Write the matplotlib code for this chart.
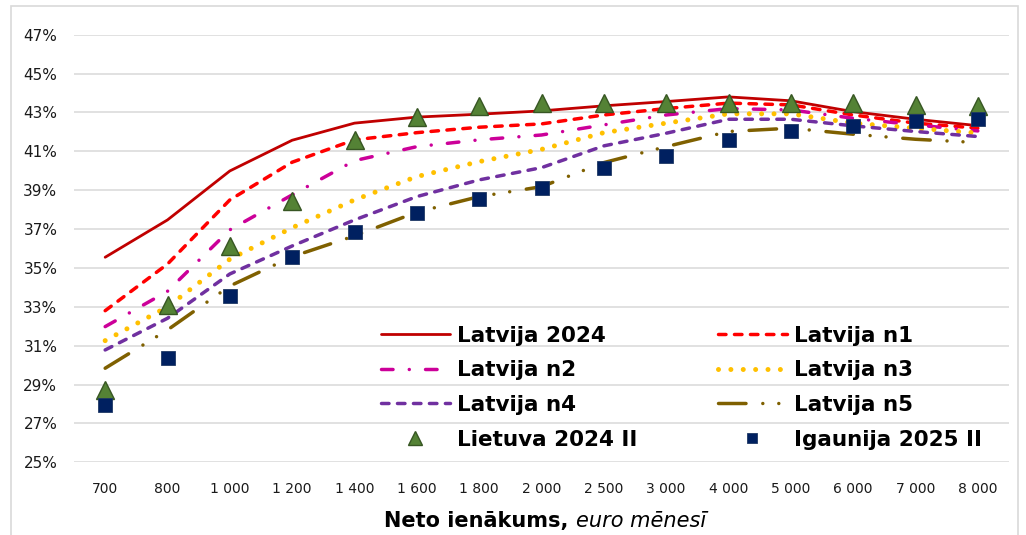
import matplotlib
matplotlib.use("Agg")
import matplotlib.pyplot as plt
from matplotlib.patches import Rectangle
import numpy as np

plt.rcParams['font.family'] = ['DejaVu Sans']
plt.rcParams['lines.scale_dashes'] = False

# data
income = ["700", "800", "1 000", "1 200", "1 400", "1 600", "1 800", "2 000",
          "2 500", "3 000", "4 000", "5 000", "6 000", "7 000", "8 000"]

lv_2024 = [35.55, 37.47, 39.99, 41.57, 42.45, 42.76, 42.91, 43.08,
           43.34, 43.56, 43.80, 43.60, 43.04, 42.65, 42.32]
lv_n1 = [32.80, 35.20, 38.50, 40.44, 41.59, 41.96, 42.24, 42.41,
         42.87, 43.20, 43.48, 43.39, 42.87, 42.45, 42.19]
lv_n2 = [31.98, 33.80, 36.96, 38.76, 40.52, 41.24, 41.59, 41.84,
         42.36, 42.87, 43.20, 43.13, 42.70, 42.36, 42.05]
lv_n3 = [31.26, 33.00, 35.45, 37.07, 38.50, 39.70, 40.47, 41.10,
         41.96, 42.45, 42.93, 42.93, 42.45, 42.19, 41.94]
lv_n4 = [30.78, 32.41, 34.69, 36.13, 37.47, 38.67, 39.53, 40.16,
         41.28, 41.93, 42.65, 42.65, 42.31, 42.02, 41.76]
lv_n5 = [29.84, 31.81, 34.07, 35.58, 36.65, 37.87, 38.67, 39.18,
         40.42, 41.24, 42.02, 42.19, 41.88, 41.62, 41.45]
lt_2024_ii = [28.73, 33.10, 36.13, 38.45, 41.59, 42.79, 43.34, 43.48,
              43.48, 43.48, 43.48, 43.48, 43.48, 43.39, 43.34]
ee_2025_ii = [27.95, 30.38, 33.56, 35.55, 36.87, 37.82, 38.55, 39.13,
              40.13, 40.78, 41.57, 42.02, 42.32, 42.57, 42.68]

W, H = 1026, 535
fig = plt.figure(figsize=(W / 100, H / 100), dpi=100)
ax = fig.add_axes([74 / W, 1 - 462.3 / H, 935 / W, (462.3 - 34.7) / H])

# chart area border
fig.patches.append(Rectangle((11 / W, -0.05), 1007 / W, 1.05 - 6 / H,
                             transform=fig.transFigure, fill=False,
                             edgecolor='#D9D9D9', lw=1.2))

x = np.arange(len(income))

h1, = ax.plot(x, lv_2024, color='#C00000', lw=2.0, solid_capstyle='round',
              label='Latvija 2024')
h2, = ax.plot(x, lv_n1, color='#FF0000', lw=2.5, dashes=(5.4, 6.1),
              dash_capstyle='round', label='Latvija n1')
h3, = ax.plot(x, lv_n2, color='#CC0099', lw=2.5, dashes=(8.3, 11.7, 0.01, 11.7),
              dash_capstyle='round', label='Latvija n2')
h4, = ax.plot(x, lv_n3, color='#FFC000', lw=3.6, dashes=(0.01, 8.9),
              dash_capstyle='round', label='Latvija n3')
h5, = ax.plot(x, lv_n4, color='#7030A0', lw=2.5, dashes=(5.4, 6.1),
              dash_capstyle='round', label='Latvija n4')
h6, = ax.plot(x, lv_n5, color='#7F6000', lw=2.5,
              dashes=(19.8, 12.1, 0.01, 11.5, 0.01, 12.1),
              dash_capstyle='round', label='Latvija n5')
h7, = ax.plot(x, lt_2024_ii, ls='none', marker='^', ms=12.5, mfc='#548235',
              mec='#375623', mew=1.0, zorder=4, label='Lietuva 2024 II')
h8, = ax.plot(x, ee_2025_ii, ls='none', marker='s', ms=9.6, mfc='#002060',
              mec='#1F3864', mew=0.6, zorder=4, label='Igaunija 2025 II')

ax.set_xlim(-0.5, len(income) - 0.5)
ax.set_ylim(25, 47)
ax.set_yticks(np.arange(25, 48, 2))
ax.set_yticklabels([f"{v}%" for v in range(25, 48, 2)])
ax.set_xticks(x)
ax.set_xticklabels(income)
ax.tick_params(axis='y', length=0, pad=12, labelsize=11, labelcolor='#1a1a1a')
ax.tick_params(axis='x', length=0, pad=14, labelsize=10, labelcolor='#1a1a1a')
ax.grid(axis='y', color='#D9D9D9', lw=1.1)
ax.set_axisbelow(True)
for s in ax.spines.values():
    s.set_visible(False)

handles = [h1, h3, h5, h7, h2, h4, h6, h8]
fig.legend(handles=handles, labels=[h.get_label() for h in handles],
           ncol=2, loc='upper left', bbox_to_anchor=(381 / W, 1 - 325.7 / H),
           bbox_transform=fig.transFigure, frameon=False, borderpad=0,
           borderaxespad=0, handlelength=3.2, handletextpad=0.33,
           columnspacing=3.73, labelspacing=0.68, numpoints=1, markerscale=0.75,
           prop={'weight': 'bold', 'size': 15.5})

# axis title: bold part + italic part, centred together
t1 = fig.text(0, 1 - 527 / H, "Neto ienākums,", fontsize=15, fontweight='bold',
              va='baseline', ha='left')
t2 = fig.text(0, 1 - 527 / H, "euro mēnesī", fontsize=15, fontstyle='italic',
              va='baseline', ha='left')
fig.canvas.draw()
r = fig.canvas.get_renderer()
w1 = t1.get_window_extent(r).width
w2 = t2.get_window_extent(r).width
gap = 8
start = 545 - (w1 + gap + w2) / 2
t1.set_x(start / W)
t2.set_x((start + w1 + gap) / W)

fig.savefig("out.png", dpi=100)
